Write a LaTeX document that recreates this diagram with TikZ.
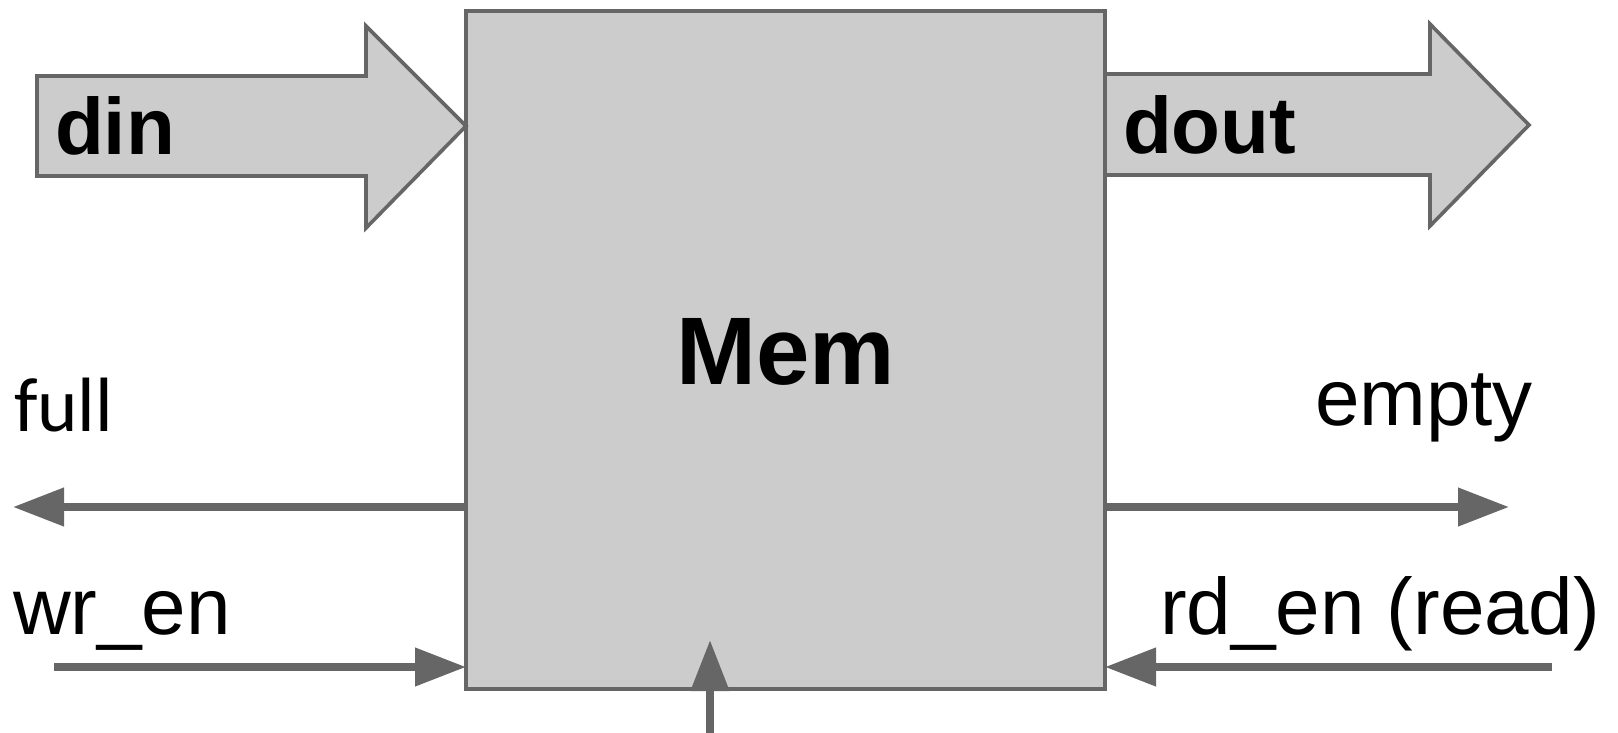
\documentclass[tikz,border=0pt]{standalone}
\usepackage{fontspec}
\setmainfont{Liberation Sans}
\newfontfamily\calfont{Carlito}
\usetikzlibrary{arrows.meta}
\definecolor{edgegray}{HTML}{666666}
\definecolor{fillgray}{HTML}{CCCCCC}
\begin{document}
\begin{tikzpicture}[x=1bp,y=-1bp,
  blockarrow/.style={draw=edgegray, fill=fillgray, line width=3.6bp, line join=miter},
  sig/.style={draw=edgegray, line width=7.5bp, -{Triangle[length=51bp,width=37bp]}},
  lbl/.style={font=\fontsize{80bp}{96bp}\selectfont, anchor=base west, inner sep=0pt, outer sep=0pt},
  blbl/.style={lbl, font=\fontsize{80bp}{96bp}\selectfont\bfseries}]
\useasboundingbox (0,0) rectangle (1618,733);

% memory block
\node[draw=edgegray, fill=fillgray, line width=3.6bp, minimum width=639bp, minimum height=678bp,
      inner sep=0pt, outer sep=0pt, anchor=north west] (mem) at (466,11) {};
\node[font=\fontsize{96bp}{115bp}\selectfont\bfseries, anchor=base, inner sep=0pt] (memlbl) at (786,384) {Mem};

% block arrows
\draw[blockarrow] (37,76) -- (366,76) -- (366,26) -- (466,126) -- (366,228) -- (366,176) -- (37,176) -- cycle;
\node[blbl] (din) at (55,155) {din};
\draw[blockarrow] (1105,74) -- (1430,74) -- (1430,24) -- (1529,125) -- (1430,226) -- (1430,175) -- (1105,175) -- cycle;
\node[blbl] (dout) at (1123,154) {dout};

% labels
\node[lbl, font=\fontsize{77bp}{92bp}\selectfont\calfont] (full) at (14,431) {full};
\node[lbl] (empty) at (1315,425) {empty};
\node[lbl] (wren) at (13,634) {wr\_en};
\node[lbl] (rden) at (1160,634) {rd\_en (read)};

% signal arrows
\coordinate (fullend) at (13,507);
\coordinate (emptyend) at (1509,507);
\coordinate (wrstart) at (54,667);
\coordinate (rdstart) at (1552,667);
\coordinate (clkstart) at (710,733);
\coordinate (clktip) at (710,640);
\draw[sig] (mem.west |- fullend) -- (fullend);
\draw[sig] (mem.east |- emptyend) -- (emptyend);
\draw[sig] (wrstart) -- (mem.west |- wrstart);
\draw[sig] (rdstart) -- (mem.east |- rdstart);
\draw[sig, line width=8bp] (clkstart) -- (clktip);
\end{tikzpicture}
\end{document}
